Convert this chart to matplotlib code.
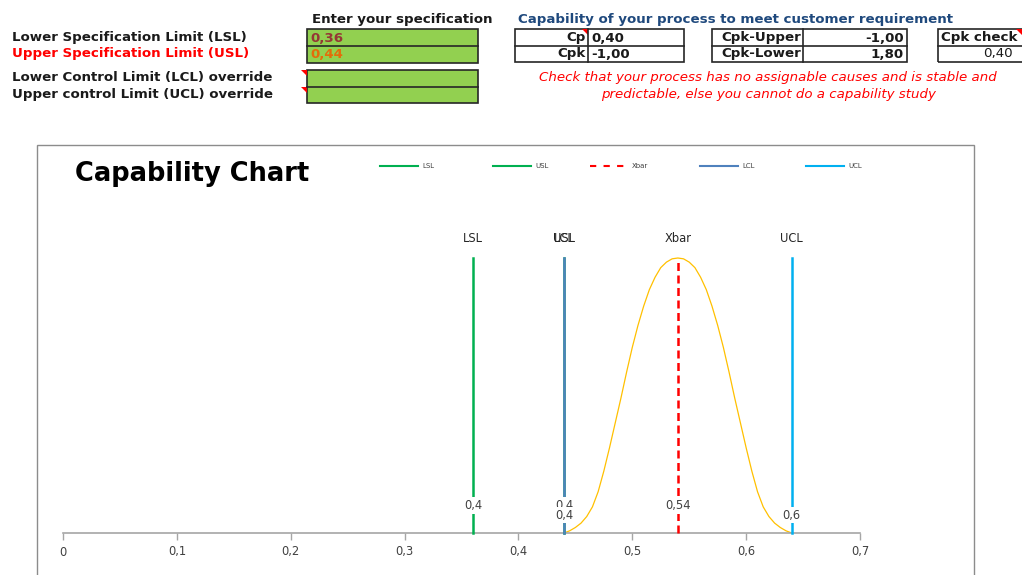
import matplotlib
matplotlib.use("Agg")
import matplotlib.pyplot as plt
from matplotlib.patches import Rectangle, Polygon
from matplotlib.lines import Line2D

W, H = 1022, 575

# spec inputs / results shown in the sheet header
lsl_text = "0,36"
usl_text = "0,44"
cp_text = "0,40"
cpk_text = "-1,00"
cpk_upper_text = "-1,00"
cpk_lower_text = "1,80"
cpk_check_text = "0,40"

# chart series
spec_names = ["LSL", "USL", "Xbar", "LCL", "UCL"]
spec_values = [0.36, 0.44, 0.54, 0.44, 0.64]
value_labels = ["0,4", "0,4", "0,54", "0,4", "0,6"]
label_heights = [0.10, 0.10, 0.10, 0.065, 0.065]
spec_colors = ["#00B050", "#00B050", "#FF0000", "#4F81BD", "#00B0F0"]

# process curve (normalised height)
curve_x = [0.44, 0.445, 0.45, 0.455, 0.46, 0.465, 0.47, 0.475, 0.48, 0.485,
           0.49, 0.495, 0.50, 0.505, 0.51, 0.515, 0.52, 0.525, 0.53, 0.535,
           0.54, 0.545, 0.55, 0.555, 0.56, 0.565, 0.57, 0.575, 0.58, 0.585,
           0.59, 0.595, 0.60, 0.605, 0.61, 0.615, 0.62, 0.625, 0.63, 0.635, 0.64]
curve_h = [0.0, 0.008, 0.02, 0.036, 0.06, 0.095, 0.15, 0.225, 0.31, 0.40,
           0.49, 0.585, 0.675, 0.755, 0.825, 0.885, 0.93, 0.965, 0.985, 0.997,
           1.0, 0.997, 0.985, 0.965, 0.93, 0.885, 0.825, 0.755, 0.675, 0.585,
           0.49, 0.40, 0.31, 0.225, 0.15, 0.095, 0.06, 0.036, 0.02, 0.008, 0.0]

x_ticks = [0, 0.1, 0.2, 0.3, 0.4, 0.5, 0.6, 0.7]
x_tick_labels = ["0", "0,1", "0,2", "0,3", "0,4", "0,5", "0,6", "0,7"]


def fx(px):
    return px / W


def fy(py):
    return 1 - py / H


fig = plt.figure(figsize=(W / 100, H / 100), dpi=100)
fig.patch.set_facecolor("white")

FS = 9.6
BOLD = dict(fontsize=FS, fontweight="bold", family="DejaVu Sans", va="center")


def box(x0, y0, x1, y1, fc="none", ec="#262626", lw=1.2, z=1):
    fig.patches.append(Rectangle((fx(x0), fy(y1)), fx(x1) - fx(x0), fy(y0) - fy(y1),
                                 transform=fig.transFigure, fc=fc, ec=ec, lw=lw,
                                 zorder=z))


def hline(x0, x1, y, color="#262626", lw=1.2):
    fig.lines.append(Line2D([fx(x0), fx(x1)], [fy(y), fy(y)],
                            transform=fig.transFigure, color=color, lw=lw))


def vline(x, y0, y1, color="#262626", lw=1.2):
    fig.lines.append(Line2D([fx(x), fx(x)], [fy(y0), fy(y1)],
                            transform=fig.transFigure, color=color, lw=lw))


def flag(x, y, right=False):
    # little red comment triangle
    if right:
        pts = [(fx(x), fy(y)), (fx(x - 6), fy(y)), (fx(x), fy(y + 6))]
    else:
        pts = [(fx(x), fy(y)), (fx(x + 6), fy(y)), (fx(x + 6), fy(y + 6))]
    fig.patches.append(Polygon(pts, closed=True, transform=fig.transFigure,
                               fc="#FF0000", ec="none"))


# ---- header: spec inputs ----
fig.text(fx(12), fy(37), "Lower Specification Limit (LSL)", color="#1a1a1a", **BOLD)
fig.text(fx(12), fy(53), "Upper Specification Limit (USL)", color="#FF0000", **BOLD)
fig.text(fx(12), fy(78), "Lower Control Limit (LCL) override", color="#1a1a1a", **BOLD)
fig.text(fx(12), fy(95), "Upper control Limit (UCL) override", color="#1a1a1a", **BOLD)
fig.text(fx(312), fy(20), "Enter your specification", color="#1a1a1a", **BOLD)

box(307, 29, 478, 63, fc="#92D050")
hline(307, 478, 46)
box(307, 70, 478, 103, fc="#92D050")
hline(307, 478, 87)
flag(301, 70)
flag(301, 87)
fig.text(fx(310), fy(38), lsl_text, color="#953735", **BOLD)
fig.text(fx(310), fy(55), usl_text, color="#E46C0A", **BOLD)

# ---- header: capability results ----
fig.text(fx(518), fy(20), "Capability of your process to meet customer requirement",
         color="#1F497D", **BOLD)

box(515, 29, 684, 62)
hline(515, 684, 46)
vline(588, 29, 62)
flag(588, 29, right=True)
fig.text(fx(586), fy(38), "Cp", ha="right", color="#1a1a1a", **BOLD)
fig.text(fx(591), fy(38), cp_text, color="#1a1a1a", **BOLD)
fig.text(fx(586), fy(54), "Cpk", ha="right", color="#1a1a1a", **BOLD)
fig.text(fx(591), fy(54), cpk_text, color="#1a1a1a", **BOLD)

box(712, 29, 907, 62)
hline(712, 907, 46)
vline(803, 29, 62)
fig.text(fx(801), fy(38), "Cpk-Upper", ha="right", color="#1a1a1a", **BOLD)
fig.text(fx(904), fy(38), cpk_upper_text, ha="right", color="#1a1a1a", **BOLD)
fig.text(fx(801), fy(54), "Cpk-Lower", ha="right", color="#1a1a1a", **BOLD)
fig.text(fx(904), fy(54), cpk_lower_text, ha="right", color="#1a1a1a", **BOLD)

box(938, 29, 1030, 62)
hline(938, 1022, 46)
flag(1022, 29, right=True)
fig.text(fx(941), fy(38), "Cpk check", color="#1a1a1a", **BOLD)
fig.text(fx(1013), fy(54), cpk_check_text, ha="right", color="#1a1a1a",
         fontsize=FS, family="DejaVu Sans", va="center")

fig.text(fx(768), fy(78), "Check that your process has no assignable causes and is stable and",
         ha="center", va="center", color="#FF0000", fontsize=FS, style="italic")
fig.text(fx(768), fy(95), "predictable, else you cannot do a capability study",
         ha="center", va="center", color="#FF0000", fontsize=FS, style="italic")

# ---- chart frame ----
box(37, 145, 974, 590, fc="none", ec="#8c8c8c", lw=1.0)
fig.text(fx(75), fy(174), "Capability Chart", fontsize=18.5, fontweight="bold",
         va="center", color="black")

# legend row
leg_x = [380, 493, 590, 700, 806]
for px, name, col in zip(leg_x, spec_names, spec_colors):
    ls = (0, (3, 3.5)) if name == "Xbar" else "-"
    fig.lines.append(Line2D([fx(px), fx(px + 38)], [fy(166), fy(166)],
                            transform=fig.transFigure, color=col, lw=1.5, ls=ls))
    fig.text(fx(px + 42), fy(166), name, fontsize=5, va="center", color="#404040")

# ---- plot area ----
ax = fig.add_axes([fx(63), fy(533), fx(860) - fx(63), fy(258) - fy(533)])
ax.set_xlim(0, 0.7)
ax.set_ylim(0, 1.0)
ax.patch.set_alpha(0)
for s in ("top", "right", "left"):
    ax.spines[s].set_visible(False)
ax.spines["bottom"].set_color("#a6a6a6")
ax.spines["bottom"].set_linewidth(1.2)
ax.set_yticks([])
ax.set_xticks(x_ticks)
ax.set_xticklabels(x_tick_labels)
ax.tick_params(axis="x", direction="out", length=5, width=1, color="#a6a6a6",
               labelsize=8.3, labelcolor="#404040", pad=4)

ax.plot(curve_x, curve_h, color="#FFC000", lw=0.9, zorder=2, clip_on=False)

for name, val, col in zip(spec_names, spec_values, spec_colors):
    if name == "Xbar":
        ax.plot([val, val], [0, 1.0], color=col, lw=1.8, dashes=(3.2, 1.8),
                zorder=3, clip_on=False)
    else:
        ax.plot([val, val], [0, 1.0], color=col, lw=1.8, zorder=3, clip_on=False)
    ax.text(val, 1.07, name, ha="center", va="center", fontsize=8.3,
            color="#262626", clip_on=False)

for val, lab, hh in zip(spec_values, value_labels, label_heights):
    ax.text(val, hh, lab, ha="center", va="center", fontsize=8.3, color="#404040",
            zorder=5, bbox=dict(fc="white", ec="none", pad=1.2))

fig.savefig("out.png", dpi=100)
